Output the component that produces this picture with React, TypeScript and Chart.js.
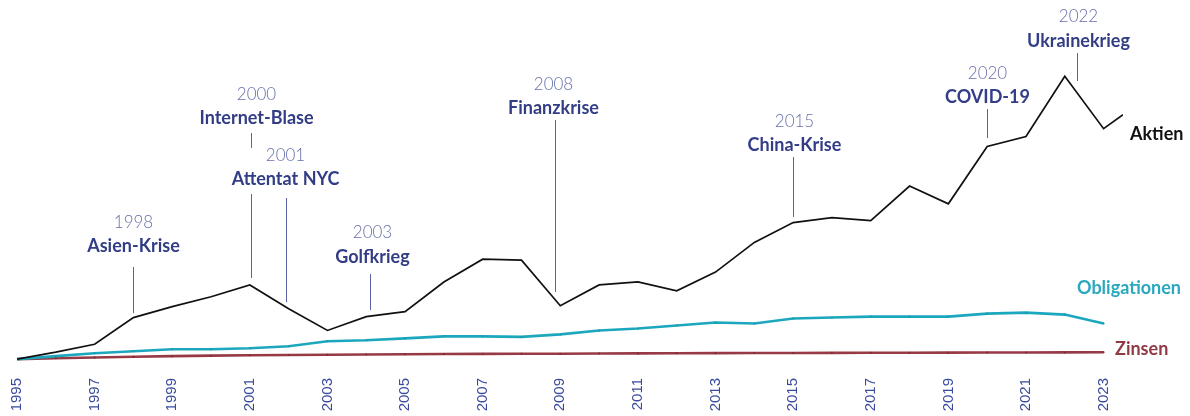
import { useEffect, useRef } from "react";
import { Chart, registerables } from "chart.js";

Chart.register(...registerables);

const years = [1995, 1996, 1997, 1998, 1999, 2000, 2001, 2002, 2003, 2004, 2005, 2006, 2007, 2008, 2009, 2010, 2011, 2012, 2013, 2014, 2015, 2016, 2017, 2018, 2019, 2020, 2021, 2022, 2023];
const aktienYears = [...years, 2023.5];
const aktien = [100, 114, 130, 184, 206, 226, 250, 202, 158, 186, 196, 256, 302, 300, 208, 250, 256, 238, 276, 336, 376, 386, 380, 450, 414, 530, 550, 672, 566, 594];
const obligationen = [100, 106, 112, 116, 120, 120, 122, 126, 136, 138, 142, 146, 146, 145, 150, 158, 162, 168, 174, 172, 182, 184, 186, 186, 186, 192, 194, 190, 172];
const zinsen = [100, 101.8, 103.4, 104.8, 106, 107, 107.8, 108.4, 108.8, 109.3, 109.8, 110.2, 110.6, 110.9, 111, 111.3, 111.6, 111.9, 112.1, 112.3, 112.5, 112.7, 112.8, 112.9, 113.1, 113.3, 113.4, 113.6, 113.8];
const tickYears = [1995, 1997, 1999, 2001, 2003, 2005, 2007, 2009, 2011, 2013, 2015, 2017, 2019, 2021, 2023];

const eventYears = ["1998", "2000", "2001", "2003", "2008", "2015", "2020", "2022"];
const eventNames = ["Asien-Krise", "Internet-Blase", "Attentat NYC", "Golfkrieg", "Finanzkrise", "China-Krise", "COVID-19", "Ukrainekrieg"];
const eventAt = [1998.0, 2001.03, 2001.93, 2004.1, 2008.87, 2015.0, 2020.0, 2022.32];

// layout of annotation texts and leader lines (pixels)
const eventLayout = [
  { dx: 0, yearY: 223, nameY: 246, lines: [[267, 313]] },
  { dx: 5, yearY: 95, nameY: 118, lines: [[133, 148], [194, 278]] },
  { dx: -1, yearY: 156, nameY: 179, lines: [[198, 302]] },
  { dx: 2, yearY: 233, nameY: 257, lines: [[274, 310]] },
  { dx: -2, yearY: 85, nameY: 108, lines: [[120, 292]] },
  { dx: 1, yearY: 122, nameY: 145, lines: [[157, 217]] },
  { dx: 0, yearY: 74, nameY: 97, lines: [[109, 138]] },
  { dx: 1, yearY: 17, nameY: 41, lines: [[53, 81]] },
];

const seriesNames = ["Aktien", "Obligationen", "Zinsen"];
const seriesColors = ["#111111", "#1ba7bd", "#973a45"];

const FONT = "Lato, 'Noto Sans', sans-serif";

const annotationPlugin = {
  id: "annotations",
  afterDatasetsDraw(chart: any) {
    const { ctx, scales, chartArea } = chart;
    const xs = scales.x;
    ctx.save();
    eventNames.forEach((name, i) => {
      const lay = eventLayout[i];
      const lx = Math.round(xs.getPixelForValue(eventAt[i])) + 0.5;
      ctx.strokeStyle = "#5a63a6";
      ctx.lineWidth = 1;
      lay.lines.forEach(([a, b]) => {
        ctx.beginPath();
        ctx.moveTo(lx, a);
        ctx.lineTo(lx, b);
        ctx.stroke();
      });
      const tx = lx + lay.dx;
      ctx.textAlign = "center";
      ctx.textBaseline = "middle";
      ctx.fillStyle = "#6770ab";
      ctx.font = `300 17px ${FONT}`;
      ctx.fillText(eventYears[i], tx, lay.yearY);
      ctx.fillStyle = "#323d86";
      ctx.font = `bold 18px ${FONT}`;
      ctx.fillText(name, tx, lay.nameY);
    });
    // series labels
    ctx.textAlign = "left";
    ctx.textBaseline = "middle";
    ctx.font = `bold 18px ${FONT}`;
    const r = chartArea.right;
    ctx.fillStyle = seriesColors[0];
    ctx.fillText(seriesNames[0], r + 7, 134);
    ctx.fillStyle = "#2aa8bf";
    ctx.fillText(seriesNames[1], r - 46, 288);
    ctx.fillStyle = "#8f3a44";
    ctx.fillText(seriesNames[2], r - 8, 349);
    ctx.restore();
  },
};

export default function App() {
  const ref = useRef<HTMLCanvasElement | null>(null);
  useEffect(() => {
    document.body.style.margin = "0";
    const canvas = ref.current;
    if (!canvas) return;
    const chart = new Chart(canvas, {
      type: "line",
      data: {
        datasets: [
          {
            label: seriesNames[0],
            data: aktienYears.map((x, i) => ({ x, y: aktien[i] })),
            borderColor: seriesColors[0],
            borderWidth: 1.7,
            pointRadius: 0,
            tension: 0,
            order: 0,
          },
          {
            label: seriesNames[1],
            data: years.map((x, i) => ({ x, y: obligationen[i] })),
            borderColor: seriesColors[1],
            backgroundColor: "#1798ad",
            borderWidth: 2.6,
            pointRadius: 1,
            pointBorderWidth: 0,
            tension: 0,
            order: 1,
          },
          {
            label: seriesNames[2],
            data: years.map((x, i) => ({ x, y: zinsen[i] })),
            borderColor: seriesColors[2],
            backgroundColor: "#7e2a34",
            borderWidth: 2.6,
            pointRadius: 1,
            pointBorderWidth: 0,
            tension: 0,
            order: 2,
          },
        ],
      },
      options: {
        animation: false,
        responsive: true,
        maintainAspectRatio: false,
        layout: { padding: { left: 17, right: 67, top: 0, bottom: 0 } },
        plugins: { legend: { display: false }, tooltip: { enabled: false } },
        scales: {
          x: {
            type: "linear",
            min: 1995,
            max: 2023.5,
            grid: { display: false, drawTicks: false },
            border: { display: false },
            afterBuildTicks: (scale: any) => {
              scale.ticks = tickYears.map((v) => ({ value: v }));
            },
            afterFit: (scale: any) => {
              scale.height = 46;
              scale.paddingLeft = 0;
              scale.paddingRight = 0;
            },
            ticks: {
              autoSkip: false,
              maxRotation: 90,
              minRotation: 90,
              padding: 8,
              color: "#3a4a9c",
              font: { family: "'Liberation Sans', Arial, sans-serif", size: 15 },
              callback: (v: any) => String(v),
            },
          },
          y: {
            display: false,
            min: 78,
            max: 818,
          },
        },
      },
      plugins: [annotationPlugin],
    });
    return () => chart.destroy();
  }, []);
  return (
    <div style={{ position: "relative", width: 1190, height: 416 }}>
      <canvas ref={ref} />
    </div>
  );
}
